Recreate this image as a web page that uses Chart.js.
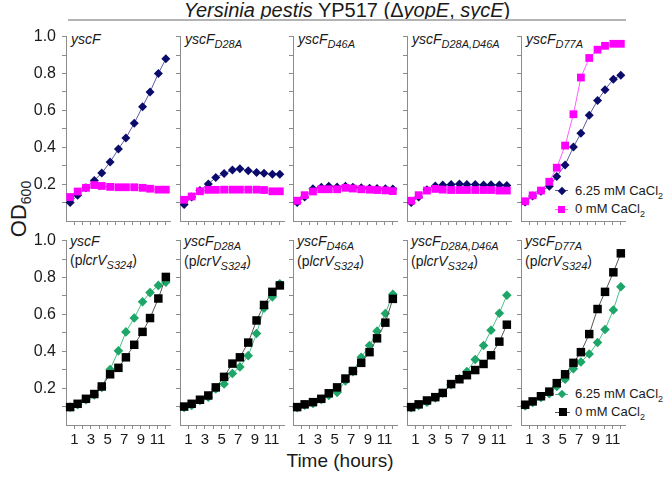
<!DOCTYPE html>
<html>
<head>
<meta charset="utf-8">
<script src="https://cdn.jsdelivr.net/npm/chart.js@4.4.0/dist/chart.umd.min.js"></script>
<style>
body { margin: 0; background: #fff; }
#wrap { position: relative; width: 666px; height: 477px; font-family: "Liberation Sans", Arial, sans-serif; color: #1a1a1a; overflow: hidden; }
canvas { position: absolute; }
.t { position: absolute; white-space: nowrap; }
.lab { font-size: 14px; line-height: 16px; }
.sb { font-size: 11px; position: relative; top: 4px; }
.leg { font-size: 13px; line-height: 16px; }
.leg .s2 { font-size: 9px; position: relative; top: 4px; }
.mk { position: absolute; }
</style>
</head>
<body>
<div id="wrap">
  <div class="t" style="left:147px;top:0px;width:400px;text-align:center;font-size:20px;line-height:20px;"><i>Yersinia pestis</i> YP517 (Δ<i>yopE</i>, <i>sycE</i>)</div>
  <div style="position:absolute;left:68px;top:19px;width:558px;height:2px;background:#b4b4b4;"></div>

  <div class="t lab" style="left:71px;top:31px;"><i>yscF</i></div>
  <div class="t lab" style="left:185px;top:31px;"><i>yscF<span class="sb">D28A</span></i></div>
  <div class="t lab" style="left:298px;top:31px;"><i>yscF<span class="sb">D46A</span></i></div>
  <div class="t lab" style="left:412px;top:31px;"><i>yscF<span class="sb">D28A,D46A</span></i></div>
  <div class="t lab" style="left:526px;top:31px;"><i>yscF<span class="sb">D77A</span></i></div>

  <div class="t lab" style="left:70px;top:232px;line-height:19px;"><i>yscF</i><br>(p<i>lcrV<span class="sb">S324</span></i>)</div>
  <div class="t lab" style="left:184px;top:232px;line-height:19px;"><i>yscF<span class="sb">D28A</span></i><br>(p<i>lcrV<span class="sb">S324</span></i>)</div>
  <div class="t lab" style="left:297px;top:232px;line-height:19px;"><i>yscF<span class="sb">D46A</span></i><br>(p<i>lcrV<span class="sb">S324</span></i>)</div>
  <div class="t lab" style="left:411px;top:232px;line-height:19px;"><i>yscF<span class="sb">D28A,D46A</span></i><br>(p<i>lcrV<span class="sb">S324</span></i>)</div>
  <div class="t lab" style="left:525px;top:232px;line-height:19px;"><i>yscF<span class="sb">D77A</span></i><br>(p<i>lcrV<span class="sb">S324</span></i>)</div>

  <div class="t" style="left:-30px;top:196px;width:100px;text-align:center;font-size:22px;line-height:24px;transform:rotate(-90deg);">OD<span style="font-size:14px;position:relative;top:5px;">600</span></div>
  <div class="t" style="left:240px;top:451px;width:200px;text-align:center;font-size:19px;line-height:20px;">Time (hours)</div>

  <!-- legends -->
  <div class="mk" style="left:555px;top:190px;width:13px;height:1px;background:#5b5ba8;"></div>
  <div class="mk" style="left:559px;top:188px;width:6px;height:6px;background:#0b0b6b;transform:rotate(45deg);"></div>
  <div class="t leg" style="left:575px;top:183px;">6.25 mM CaCl<span class="s2">2</span></div>
  <div class="mk" style="left:555px;top:209px;width:13px;height:1px;background:#ff5cff;"></div>
  <div class="mk" style="left:558px;top:206px;width:7px;height:7px;background:#ff00ff;"></div>
  <div class="t leg" style="left:575px;top:201px;">0 mM CaCl<span class="s2">2</span></div>

  <div class="mk" style="left:555px;top:394px;width:13px;height:1px;background:#4cbf88;"></div>
  <div class="mk" style="left:559px;top:391px;width:6px;height:6px;background:#1ea568;transform:rotate(45deg);"></div>
  <div class="t leg" style="left:575px;top:386px;">6.25 mM CaCl<span class="s2">2</span></div>
  <div class="mk" style="left:555px;top:412px;width:15px;height:1px;background:#555;"></div>
  <div class="mk" style="left:559px;top:408px;width:8px;height:8px;background:#000;"></div>
  <div class="t leg" style="left:575px;top:404px;">0 mM CaCl<span class="s2">2</span></div>
</div>
<script>
// sampling times (hours)
const hours = [0.5, 1.4, 2.4, 3.4, 4.3, 5.3, 6.3, 7.2, 8.2, 9.2, 10.1, 11.1, 12.0];
const hourTicks = [1, 2, 3, 4, 5, 6, 7, 8, 9, 10, 11, 12];
const odTicks = [0.1, 0.2, 0.3, 0.4, 0.5, 0.6, 0.7, 0.8, 0.9, 1.0];

// top row: YP517 (yopE, sycE), 6.25 mM vs 0 mM CaCl2
const yscF_ca     = [0.10, 0.14, 0.18, 0.22, 0.26, 0.32, 0.39, 0.45, 0.53, 0.62, 0.70, 0.80, 0.88];
const yscF_no     = [0.13, 0.16, 0.18, 0.195, 0.19, 0.185, 0.183, 0.183, 0.183, 0.18, 0.175, 0.17, 0.17];
const d28a_ca     = [0.09, 0.13, 0.165, 0.20, 0.236, 0.257, 0.277, 0.284, 0.272, 0.263, 0.259, 0.254, 0.254];
const d28a_no     = [0.115, 0.133, 0.161, 0.169, 0.169, 0.17, 0.17, 0.17, 0.17, 0.17, 0.168, 0.161, 0.161];
const d46a_ca     = [0.10, 0.13, 0.175, 0.183, 0.188, 0.185, 0.188, 0.183, 0.18, 0.178, 0.176, 0.175, 0.173];
const d46a_no     = [0.11, 0.14, 0.16, 0.172, 0.172, 0.172, 0.18, 0.176, 0.172, 0.17, 0.168, 0.166, 0.162];
const d28d46_ca   = [0.10, 0.13, 0.17, 0.19, 0.195, 0.198, 0.20, 0.198, 0.198, 0.195, 0.197, 0.195, 0.193];
const d28d46_no   = [0.11, 0.14, 0.165, 0.174, 0.17, 0.168, 0.168, 0.168, 0.168, 0.168, 0.168, 0.165, 0.165];
const d77a_ca     = [0.103, 0.135, 0.161, 0.188, 0.242, 0.304, 0.401, 0.476, 0.574, 0.654, 0.712, 0.769, 0.79];
const d77a_no     = [0.107, 0.139, 0.165, 0.213, 0.289, 0.409, 0.579, 0.778, 0.884, 0.929, 0.95, 0.961, 0.961];

// bottom row: same strains + plcrV S324
const yscF_lcr_ca   = [0.097, 0.11, 0.137, 0.163, 0.204, 0.301, 0.402, 0.505, 0.58, 0.668, 0.718, 0.757, 0.775];
const yscF_lcr_no   = [0.097, 0.115, 0.142, 0.168, 0.209, 0.275, 0.31, 0.367, 0.435, 0.505, 0.58, 0.686, 0.803];
const d28a_lcr_ca   = [0.095, 0.106, 0.133, 0.151, 0.195, 0.222, 0.279, 0.315, 0.376, 0.496, 0.633, 0.695, 0.766];
const d28a_lcr_no   = [0.10, 0.115, 0.137, 0.16, 0.204, 0.261, 0.333, 0.367, 0.447, 0.567, 0.651, 0.722, 0.757];
const d46a_lcr_ca   = [0.094, 0.108, 0.117, 0.138, 0.16, 0.177, 0.239, 0.289, 0.367, 0.431, 0.509, 0.605, 0.709];
const d46a_lcr_no   = [0.097, 0.112, 0.124, 0.142, 0.172, 0.204, 0.252, 0.293, 0.337, 0.395, 0.47, 0.555, 0.684];
const d28d46_lcr_ca = [0.094, 0.106, 0.124, 0.147, 0.172, 0.218, 0.252, 0.29, 0.355, 0.431, 0.514, 0.606, 0.704];
const d28d46_lcr_no = [0.097, 0.112, 0.133, 0.151, 0.174, 0.222, 0.248, 0.27, 0.298, 0.331, 0.378, 0.452, 0.544];
const d77a_lcr_ca   = [0.103, 0.122, 0.149, 0.17, 0.209, 0.248, 0.305, 0.342, 0.385, 0.447, 0.518, 0.624, 0.75];
const d77a_lcr_no   = [0.11, 0.128, 0.156, 0.181, 0.227, 0.275, 0.337, 0.395, 0.493, 0.629, 0.722, 0.828, 0.931];

const topRow = [[yscF_ca, yscF_no], [d28a_ca, d28a_no], [d46a_ca, d46a_no], [d28d46_ca, d28d46_no], [d77a_ca, d77a_no]];
const bottomRow = [[yscF_lcr_ca, yscF_lcr_no], [d28a_lcr_ca, d28a_lcr_no], [d46a_lcr_ca, d46a_lcr_no], [d28d46_lcr_ca, d28d46_lcr_no], [d77a_lcr_ca, d77a_lcr_no]];

const colLeft = [66, 180, 293, 407, 521];
const rowTop = [33, 237];
const plotW = 104, plotH = 188;
const padL = 44, padT = 12, padR = 8, padB = 30;

const styles = [
    { ca: { point: '#0b0b6b', line: '#5b5ba8', shape: 'rectRot', r: 4.5 }, no: { point: '#ff00ff', line: '#ff5cff', shape: 'rect', r: 5.5 } },
    { ca: { point: '#1ea568', line: '#4cbf88', shape: 'rectRot', r: 4.8 }, no: { point: '#000000', line: '#555555', shape: 'rect', r: 6 } }
];

function series(vals, st) {
    return {
        data: vals.map((v, i) => ({ x: hours[i], y: v })),
        borderColor: st.line,
        borderWidth: 1,
        backgroundColor: st.point,
        pointBackgroundColor: st.point,
        pointBorderColor: st.point,
        pointBorderWidth: 0,
        pointStyle: st.shape,
        pointRadius: st.r,
        clip: false
    };
}

function makePanel(row, col, pair) {
    const cv = document.createElement('canvas');
    const w = padL + plotW + padR, h = padT + plotH + padB;
    cv.width = w; cv.height = h;
    cv.style.left = (colLeft[col] - padL) + 'px';
    cv.style.top = (rowTop[row] - padT) + 'px';
    document.getElementById('wrap').appendChild(cv);
    const st = styles[row];
    new Chart(cv.getContext('2d'), {
        type: 'line',
        data: { datasets: [series(pair[1], st.no), series(pair[0], st.ca)] },
        options: {
            responsive: false,
            animation: false,
            devicePixelRatio: 1,
            events: [],
            layout: { padding: { top: padT, right: padR, left: 0, bottom: 0 } },
            plugins: { legend: { display: false }, tooltip: { enabled: false } },
            scales: {
                x: {
                    type: 'linear', min: 0, max: 12.5,
                    afterBuildTicks: s => { s.ticks = hourTicks.map(v => ({ value: v })); },
                    afterFit: s => { s.height = padB; },
                    grid: { drawOnChartArea: false, tickLength: 4, color: '#8c8c8c' },
                    border: { color: '#8c8c8c', width: 1 },
                    ticks: {
                        padding: 2, maxRotation: 0, autoSkip: false,
                        color: '#1a1a1a',
                        font: { family: 'Liberation Sans', size: 15 },
                        callback: v => (row === 1 && v % 2 === 1) ? String(v) : ''
                    }
                },
                y: {
                    min: 0, max: 1.0,
                    afterBuildTicks: s => { s.ticks = odTicks.map(v => ({ value: v })); },
                    afterFit: s => { s.width = padL; },
                    grid: { drawOnChartArea: false, tickLength: 4, color: '#8c8c8c' },
                    border: { color: '#8c8c8c', width: 1 },
                    ticks: {
                        padding: 6, autoSkip: false,
                        color: '#1a1a1a',
                        font: { family: 'Liberation Sans', size: 16 },
                        callback: v => (col === 0 && Math.round(v * 10) % 2 === 0) ? v.toFixed(1) : ''
                    }
                }
            }
        }
    });
}

topRow.forEach((pair, c) => makePanel(0, c, pair));
bottomRow.forEach((pair, c) => makePanel(1, c, pair));
</script>
</body>
</html>
